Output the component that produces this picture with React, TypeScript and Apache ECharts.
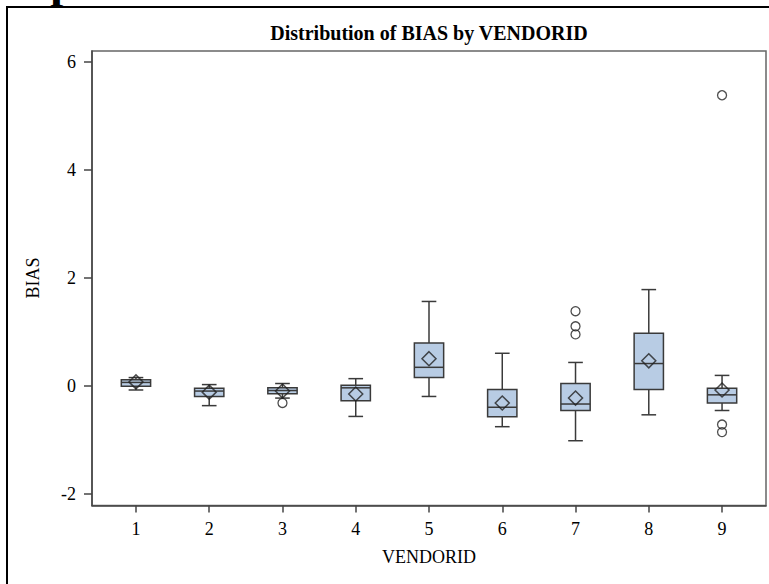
import React, { useEffect, useRef } from "react";
import * as echarts from "echarts";

const vendorIds = [1, 2, 3, 4, 5, 6, 7, 8, 9];
const whiskerLow = [-0.08, -0.37, -0.23, -0.57, -0.2, -0.76, -1.02, -0.54, -0.46];
const quartile1 = [-0.01, -0.2, -0.15, -0.28, 0.15, -0.575, -0.46, -0.07, -0.32];
const medians = [0.06, -0.1, -0.09, -0.04, 0.34, -0.4, -0.34, 0.41, -0.17];
const quartile3 = [0.11, -0.05, -0.04, 0.01, 0.79, -0.07, 0.04, 0.97, -0.05];
const whiskerHigh = [0.15, 0.02, 0.04, 0.13, 1.56, 0.6, 0.43, 1.78, 0.19];
const means = [0.07, -0.12, -0.1, -0.155, 0.5, -0.32, -0.23, 0.46, -0.08];
const outlierVendor = [3, 7, 7, 7, 9, 9, 9];
const outlierValue = [-0.32, 1.38, 1.1, 0.95, 5.38, -0.72, -0.86];
const yTicks = [-2, 0, 2, 4, 6];

const SERIF = '"Liberation Serif", "DejaVu Serif", serif';

export default function App() {
  const ref = useRef<HTMLDivElement>(null);
  useEffect(() => {
    if (!ref.current) return;
    const chart = echarts.init(ref.current, undefined, { renderer: "svg" });
    const boxData = vendorIds.map((v, i) => [
      v,
      whiskerLow[i],
      quartile1[i],
      medians[i],
      quartile3[i],
      whiskerHigh[i],
    ]);
    const meanData = vendorIds.map((v, i) => [v, means[i]]);
    const outData = outlierVendor.map((v, i) => [v, outlierValue[i]]);
    const lineStyle = { stroke: "#3a3a3a", lineWidth: 1.5 };
    chart.setOption({
      animation: false,
      grid: {
        left: 92,
        right: 3,
        top: 51,
        bottom: 78.5,
        show: true,
        borderColor: "#666",
        borderWidth: 1.5,
        backgroundColor: "#fff",
      },
      xAxis: {
        type: "value",
        min: 0.4,
        max: 9.6,
        splitLine: { show: false },
        axisLine: { show: true, onZero: false, lineStyle: { color: "#444", width: 1.5 } },
        axisTick: {
          show: true,
          customValues: vendorIds,
          length: 7,
          lineStyle: { color: "#444", width: 1.5 },
        },
        axisLabel: {
          customValues: vendorIds,
          margin: 14,
          color: "#000",
          fontFamily: SERIF,
          fontSize: 18,
        },
      },
      yAxis: {
        type: "value",
        min: -2.22,
        max: 6.2,
        splitLine: { show: false },
        axisLine: { show: true, onZero: false, lineStyle: { color: "#444", width: 1.5 } },
        axisTick: {
          show: true,
          customValues: yTicks,
          length: 8,
          lineStyle: { color: "#444", width: 1.5 },
        },
        axisLabel: {
          customValues: yTicks,
          margin: 16,
          color: "#000",
          fontFamily: SERIF,
          fontSize: 18,
        },
      },
      graphic: [
        {
          type: "rect",
          shape: { x: 7, y: 7, width: 800, height: 700 },
          style: { fill: "none", stroke: "#000", lineWidth: 2 },
          silent: true,
          z: -10,
        },
        {
          type: "text",
          x: 50,
          y: -44,
          style: { text: "p", font: `bold 48px ${SERIF}`, fill: "#000" },
        },
        {
          type: "text",
          x: 429,
          y: 33,
          style: {
            text: "Distribution of BIAS by VENDORID",
            font: `bold 20px ${SERIF}`,
            fill: "#000",
            textAlign: "center",
            textVerticalAlign: "middle",
          },
        },
        {
          type: "text",
          x: 429,
          y: 557,
          style: {
            text: "VENDORID",
            font: `18px ${SERIF}`,
            fill: "#000",
            textAlign: "center",
            textVerticalAlign: "middle",
          },
        },
        {
          type: "text",
          x: 33,
          y: 278,
          rotation: Math.PI / 2,
          style: {
            text: "BIAS",
            font: `18px ${SERIF}`,
            fill: "#000",
            textAlign: "center",
            textVerticalAlign: "middle",
          },
        },
      ],
      series: [
        {
          type: "custom",
          data: boxData,
          encode: { x: 0, y: [1, 2, 3, 4, 5] },
          z: 2,
          renderItem: (params: any, api: any) => {
            const x = api.value(0);
            const lo = api.coord([x, api.value(1)]);
            const q1 = api.coord([x, api.value(2)]);
            const md = api.coord([x, api.value(3)]);
            const q3 = api.coord([x, api.value(4)]);
            const hi = api.coord([x, api.value(5)]);
            const bw = api.size([0.4, 0])[0];
            const cw = bw / 2;
            const cx = lo[0];
            return {
              type: "group",
              children: [
                { type: "line", shape: { x1: cx, y1: hi[1], x2: cx, y2: q3[1] }, style: lineStyle },
                { type: "line", shape: { x1: cx, y1: q1[1], x2: cx, y2: lo[1] }, style: lineStyle },
                { type: "line", shape: { x1: cx - cw / 2, y1: hi[1], x2: cx + cw / 2, y2: hi[1] }, style: lineStyle },
                { type: "line", shape: { x1: cx - cw / 2, y1: lo[1], x2: cx + cw / 2, y2: lo[1] }, style: lineStyle },
                {
                  type: "rect",
                  shape: { x: cx - bw / 2, y: q3[1], width: bw, height: q1[1] - q3[1] },
                  style: { fill: "#B8CCE4", stroke: "#3a3a3a", lineWidth: 1.5 },
                },
                { type: "line", shape: { x1: cx - bw / 2, y1: md[1], x2: cx + bw / 2, y2: md[1] }, style: lineStyle },
              ],
            };
          },
        },
        {
          type: "scatter",
          data: meanData,
          symbol: "diamond",
          symbolSize: 14,
          z: 3,
          itemStyle: { color: "transparent", borderColor: "#222", borderWidth: 1.5 },
        },
        {
          type: "scatter",
          data: outData,
          symbol: "circle",
          symbolSize: 9,
          z: 3,
          itemStyle: { color: "transparent", borderColor: "#222", borderWidth: 1.3 },
        },
      ],
    });
    return () => chart.dispose();
  }, []);
  return (
    <div
      ref={ref}
      style={{ position: "fixed", left: 0, top: 0, width: 769, height: 584, background: "#fff" }}
    />
  );
}
